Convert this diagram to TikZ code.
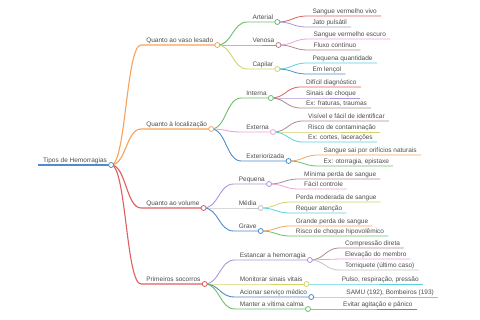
\documentclass[tikz,border=0pt]{standalone}
\usepackage{fontspec}
\setmainfont{Liberation Sans}
\usetikzlibrary{calc}
\definecolor{cblue}{HTML}{4F8CC9}
\definecolor{corange}{HTML}{F7A35C}
\definecolor{cgreen}{HTML}{6BBF6B}
\definecolor{cred}{HTML}{DE5F60}
\definecolor{cpurple}{HTML}{AC96D8}
\definecolor{cbrown}{HTML}{AE8A8E}
\definecolor{cpink}{HTML}{EEA2D8}
\definecolor{cgrey}{HTML}{C4C4C4}
\definecolor{colive}{HTML}{D2D46A}
\definecolor{ccyan}{HTML}{5ACFE0}
\tikzset{
  txt/.style={font=\fontsize{6.5}{7}\selectfont, text=black!70, inner sep=0pt},
  dot/.style={fill=white, line width=.8pt}
}
\newcommand\mmnode[6]{%
  \path let \p1=(#2-e) in (\x1+30pt,-#3pt) coordinate (#1-s);
  \node[txt,anchor=base west] (#1-t) at ([xshift=5pt,yshift=2.3pt]#1-s) {#6};
  \path let \p1=(#1-t.base east), \p2=(#1-s) in (\x1+4pt,\y2) coordinate (#1-e);
  \draw[#4,line width=#5] let \p1=(#2-e), \p2=(#1-s) in
    (\p1) .. controls ({(\x1+\x2)/2},\y1) and ({(\x1+\x2)/2},\y2) .. (\p2) -- (#1-e);
}
\newcommand\mmdot[2]{\draw[#2,dot] (#1-e) circle (2.5pt);}
\begin{document}
\begin{tikzpicture}[x=1pt,y=-1pt]
\useasboundingbox (0,0) rectangle (480,320);
% root
\coordinate (root-s) at (38,165);
\node[txt,anchor=base west] (root-t) at ([xshift=5pt,yshift=2.3pt]root-s) {Tipos de Hemorragias};
\path let \p1=(root-t.base east), \p2=(root-s) in (\x1+4pt,\y2) coordinate (root-e);
\draw[cblue,line width=1.4pt] (root-s) -- (root-e);
% level 1
\mmnode{a}{root}{45}{corange}{1.1pt}{Quanto ao vaso lesado}
\mmnode{b}{root}{129}{corange}{1.1pt}{Quanto à localização}
\mmnode{c}{root}{208}{cred}{1.1pt}{Quanto ao volume}
\mmnode{d}{root}{284}{cred}{1.1pt}{Primeiros socorros}
% vaso lesado
\mmnode{a1}{a}{22}{cgreen}{.9pt}{Arterial}
\mmnode{a2}{a}{45}{cbrown}{.9pt}{Venosa}
\mmnode{a3}{a}{69}{colive}{.9pt}{Capilar}
\mmnode{a11}{a1}{16}{cred}{.8pt}{Sangue vermelho vivo}
\mmnode{a12}{a1}{27}{cpurple}{.8pt}{Jato pulsátil}
\mmnode{a21}{a2}{39}{cpink}{.8pt}{Sangue vermelho escuro}
\mmnode{a22}{a2}{50}{cbrown}{.8pt}{Fluxo contínuo}
\mmnode{a31}{a3}{63}{ccyan}{.8pt}{Pequena quantidade}
\mmnode{a32}{a3}{74}{cblue}{.8pt}{Em lençol}
% localizacao
\mmnode{b1}{b}{98}{cgreen}{.9pt}{Interna}
\mmnode{b2}{b}{132}{cpink}{.9pt}{Externa}
\mmnode{b3}{b}{161}{cblue}{.9pt}{Exteriorizada}
\mmnode{b11}{b1}{87}{cred}{.8pt}{Difícil diagnóstico}
\mmnode{b12}{b1}{98}{cpurple}{.8pt}{Sinais de choque}
\mmnode{b13}{b1}{108}{cbrown}{.8pt}{Ex: fraturas, traumas}
\mmnode{b21}{b2}{121}{cbrown}{.8pt}{Visível e fácil de identificar}
\mmnode{b22}{b2}{132}{colive}{.8pt}{Risco de contaminação}
\mmnode{b23}{b2}{142}{ccyan}{.8pt}{Ex: cortes, lacerações}
\mmnode{b31}{b3}{155}{corange}{.8pt}{Sangue sai por orifícios naturais}
\mmnode{b32}{b3}{166}{cgreen}{.8pt}{Ex: otorragia, epistaxe}
% volume
\mmnode{c1}{c}{184}{cpurple}{.9pt}{Pequena}
\mmnode{c2}{c}{208}{cgrey}{.9pt}{Média}
\mmnode{c3}{c}{231}{cblue}{.9pt}{Grave}
\mmnode{c11}{c1}{179}{cbrown}{.8pt}{Mínima perda de sangue}
\mmnode{c12}{c1}{189}{cpink}{.8pt}{Fácil controle}
\mmnode{c21}{c2}{202}{colive}{.8pt}{Perda moderada de sangue}
\mmnode{c22}{c2}{213}{ccyan}{.8pt}{Requer atenção}
\mmnode{c31}{c3}{226}{corange}{.8pt}{Grande perda de sangue}
\mmnode{c32}{c3}{236}{cgreen}{.8pt}{Risco de choque hipovolêmico}
% primeiros socorros
\mmnode{d1}{d}{260}{cpurple}{.9pt}{Estancar a hemorragia}
\mmnode{d2}{d}{284}{colive}{.9pt}{Monitorar sinais vitais}
\mmnode{d3}{d}{297}{cblue}{.9pt}{Acionar serviço médico}
\mmnode{d4}{d}{309}{cgreen}{.9pt}{Manter a vítima calma}
\mmnode{d11}{d1}{248}{cbrown}{.8pt}{Compressão direta}
\mmnode{d12}{d1}{259}{cpink}{.8pt}{Elevação do membro}
\mmnode{d13}{d1}{270}{cgrey}{.8pt}{Torniquete (último caso)}
\mmnode{d21}{d2}{284}{ccyan}{.8pt}{Pulso, respiração, pressão}
\mmnode{d31}{d3}{297}{corange}{.8pt}{SAMU (192), Bombeiros (193)}
\mmnode{d41}{d4}{309}{cred}{.8pt}{Evitar agitação e pânico}
% circles
\mmdot{root}{cblue}
\mmdot{a}{corange}\mmdot{b}{corange}\mmdot{c}{cred}\mmdot{d}{cred}
\mmdot{a1}{cgreen}\mmdot{a2}{cbrown}\mmdot{a3}{colive}
\mmdot{b1}{cgreen}\mmdot{b2}{cpink}\mmdot{b3}{cblue}
\mmdot{c1}{cpurple}\mmdot{c2}{cgrey}\mmdot{c3}{cblue}
\mmdot{d1}{cpurple}\mmdot{d2}{colive}\mmdot{d3}{cblue}\mmdot{d4}{cgreen}
\end{tikzpicture}
\end{document}
